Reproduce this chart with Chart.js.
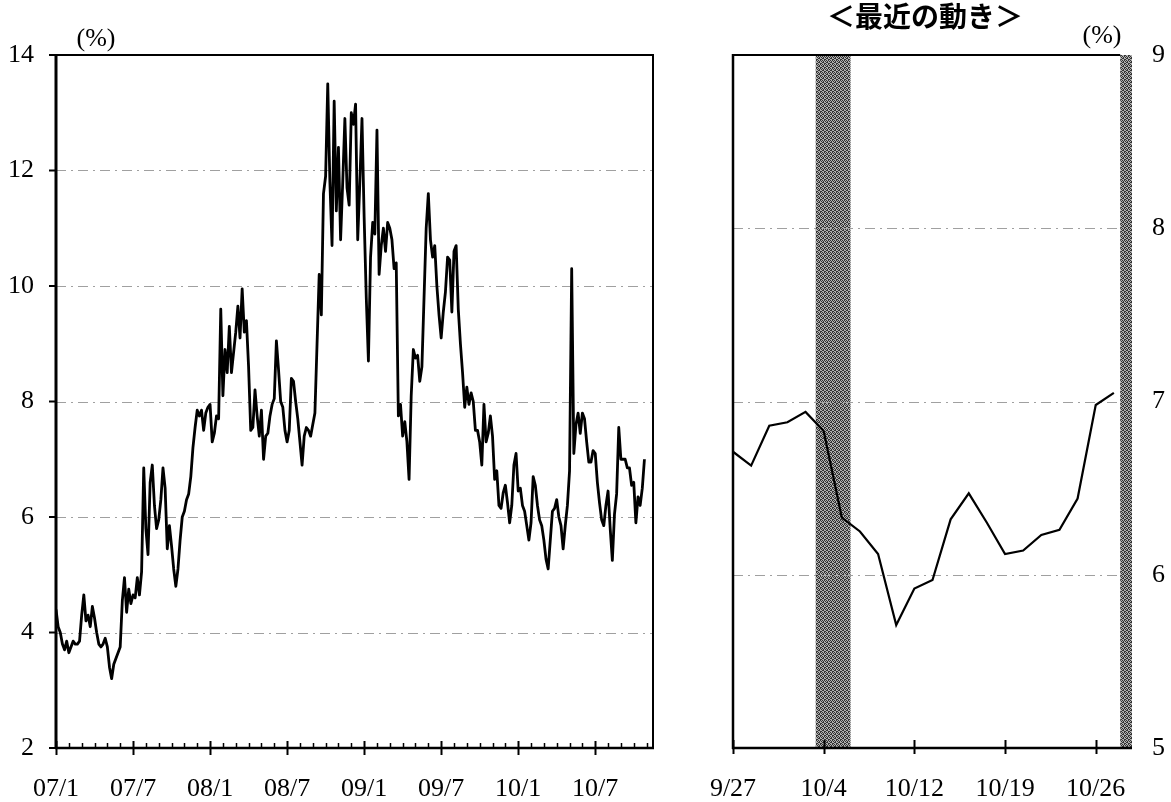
<!DOCTYPE html>
<html>
<head>
<meta charset="utf-8">
<script src="https://cdn.jsdelivr.net/npm/chart.js@4/dist/chart.umd.min.js"></script>
<style>
  html, body { margin: 0; padding: 0; background: #fff; }
  body { width: 1171px; height: 802px; position: relative; overflow: hidden; }
  canvas { position: absolute; top: 0; }
  .lbl { position: absolute; transform: translate(-50%, -50%); white-space: nowrap; color: #000; line-height: 1; }
  .serif { font-family: "Liberation Serif", "DejaVu Serif", serif; font-size: 26px; }
  .title { font-family: "Noto Sans CJK JP", sans-serif; font-weight: bold; font-size: 28px; }
</style>
</head>
<body>
<canvas id="left" width="700" height="802" style="left:0"></canvas>
<canvas id="right" width="471" height="802" style="left:700px"></canvas>
<div class="lbl serif" style="left:96px; top:38px;">(%)</div>
<div class="lbl serif" style="left:1102px; top:35px;">(%)</div>
<div class="lbl title" style="left:925px; top:15px;">＜最近の動き＞</div>
<script>
// ---------- Long-run series (Jan 2007 – Oct 2010), 6 readings per month ----------
const startLabel = '07/1';
const pointsPerMonth = 6;
const longValues = [
  4.4,4.1,4.0,3.8,3.7,3.85, 3.65,3.75,3.85,3.8,3.8,3.85,
  4.3,4.65,4.2,4.3,4.1,4.45, 4.25,4.0,3.8,3.75,3.8,3.9,
  3.75,3.4,3.2,3.45,3.55,3.65, 3.75,4.55,4.95,4.35,4.75,4.5,
  4.65,4.6,4.95,4.65,5.05,6.85, 5.8,5.35,6.6,6.9,6.2,5.8,
  5.95,6.3,6.85,6.5,5.45,5.85, 5.5,5.1,4.8,5.1,5.6,6.0,
  6.1,6.3,6.4,6.7,7.2,7.55, 7.85,7.75,7.85,7.5,7.8,7.9,
  7.95,7.3,7.45,7.75,7.7,9.6, 8.1,8.9,8.5,9.3,8.5,8.85,
  9.2,9.65,9.1,9.95,9.2,9.4, 8.6,7.5,7.55,8.2,7.75,7.4,
  7.85,7.0,7.4,7.45,7.75,7.95, 8.05,9.05,8.55,8.0,7.9,7.5,
  7.3,7.5,8.4,8.35,8.0,7.7, 7.3,6.9,7.4,7.55,7.5,7.4,
  7.6,7.8,9.0,10.2,9.5,11.6, 11.9,13.5,11.8,10.7,13.2,11.3,
  12.4,10.8,11.8,12.9,11.7,11.4, 13.0,12.8,13.15,10.8,11.8,12.9,
  11.2,9.8,8.7,10.5,11.1,10.9, 12.7,10.2,10.7,11.0,10.6,11.1,
  11.0,10.8,10.3,10.4,7.75,7.95, 7.4,7.65,7.3,6.65,8.1,8.9,
  8.75,8.8,8.35,8.6,9.8,11.0, 11.6,10.8,10.5,10.7,10.0,9.5,
  9.1,9.55,9.9,10.5,10.45,9.55, 10.6,10.7,9.6,9.0,8.5,7.9,
  8.25,7.95,8.15,8.0,7.5,7.5, 7.3,6.9,7.95,7.3,7.45,7.75,
  7.4,6.65,6.8,6.2,6.15,6.42, 6.55,6.25,5.9,6.2,6.9,7.1,
  6.45,6.5,6.2,6.1,5.85,5.6, 5.9,6.7,6.55,6.2,5.95,5.85,
  5.6,5.27,5.1,5.6,6.1,6.15, 6.3,6.0,5.85,5.45,5.85,6.2,
  6.8,10.3,7.1,7.6,7.8,7.45, 7.8,7.7,7.3,6.95,6.95,7.15,
  7.1,6.6,6.25,5.95,5.85,6.2, 6.45,5.8,5.25,6.05,6.4,7.55,
  7.0,7.0,7.0,6.85,6.85,6.55, 6.6,5.9,6.35,6.2,6.5,7.0
];
const longTickLabels = ['07/1','07/7','08/1','08/7','09/1','09/7','10/1','10/7'];
const longAxisMonths = 46.5;        // axis runs to mid Nov 2010
const longYTicks = [2,4,6,8,10,12,14];

// ---------- Recent series (business days) ----------
const recentDates = ['9/27','9/28','9/29','9/30','10/1','10/4','10/5','10/6','10/7','10/8',
  '10/12','10/13','10/14','10/15','10/18','10/19','10/20','10/21','10/22','10/25','10/26','10/27'];
const recentValues = [6.71,6.63,6.86,6.88,6.94,6.83,6.33,6.25,6.12,5.71,
  5.92,5.97,6.32,6.47,6.30,6.12,6.14,6.23,6.26,6.44,6.98,7.05];
const recentTickDates = ['9/27','10/4','10/12','10/19','10/26'];
const recentShade = [[4.56, 6.48], [21.35, 22]];   // in business-day index units
const recentYTicks = [5,6,7,8,9];

const SERIF = '"Liberation Serif", "DejaVu Serif", serif';
Chart.defaults.font.family = SERIF;
Chart.defaults.color = '#000';

function dashedGrid(ctx, area, ys) {
  ctx.save();
  ctx.strokeStyle = '#a0a0a0';
  ctx.lineWidth = 1;
  ctx.setLineDash([10, 5, 2, 5]);
  ys.forEach(y => {
    ctx.beginPath();
    ctx.moveTo(area.left, Math.round(y) + 0.5);
    ctx.lineTo(area.right, Math.round(y) + 0.5);
    ctx.stroke();
  });
  ctx.restore();
}
function line(ctx, x1, y1, x2, y2, w) {
  ctx.lineWidth = w;
  ctx.beginPath(); ctx.moveTo(x1, y1); ctx.lineTo(x2, y2); ctx.stroke();
}
function noSidePadding(s) { s.paddingLeft = 0; s.paddingRight = 0; s.height = 54; }

// ---------- Left chart ----------
const longPoints = longValues.map((v, i) => ({ x: i / pointsPerMonth, y: v }));

const leftPlugin = {
  id: 'leftDecor',
  beforeDatasetsDraw(chart) {
    const { ctx, chartArea: a, scales: { y } } = chart;
    dashedGrid(ctx, a, longYTicks.filter(v => v > y.min && v < y.max).map(v => y.getPixelForValue(v)));
  },
  afterDatasetsDraw(chart) {
    const { ctx, chartArea: a, scales: { x, y } } = chart;
    ctx.save();
    ctx.strokeStyle = '#000';
    ctx.lineCap = 'butt';
    line(ctx, a.left, a.top, a.right + 1, a.top, 2);
    line(ctx, a.right, a.top, a.right, a.bottom, 2);
    line(ctx, a.left - 1, a.bottom, a.right + 1, a.bottom, 2.5);
    line(ctx, a.left, a.top - 1, a.left, a.bottom + 1, 3);
    longYTicks.forEach(v => { const py = y.getPixelForValue(v); line(ctx, a.left - 7, py, a.left, py, 2); });
    for (let m = 0; m <= Math.floor(x.max); m++) {
      const px = Math.round(x.getPixelForValue(m)) + 0.5;
      if (m % 6 === 0) line(ctx, px, a.bottom - 7, px, a.bottom + 7, 2);
      else line(ctx, px, a.bottom - 5, px, a.bottom, 1.5);
    }
    ctx.restore();
  }
};

new Chart(document.getElementById('left'), {
  type: 'line',
  data: { datasets: [{ data: longPoints, borderColor: '#000', borderWidth: 2.8, pointRadius: 0, tension: 0, borderJoinStyle: 'round', fill: false }] },
  options: {
    responsive: false, animation: false, devicePixelRatio: 1,
    layout: { padding: { top: 55, right: 47, left: 0, bottom: 0 } },
    plugins: { legend: { display: false }, tooltip: { enabled: false } },
    scales: {
      x: {
        type: 'linear', min: 0, max: longAxisMonths,
        afterBuildTicks: s => { s.ticks = longTickLabels.map((_, i) => ({ value: i * 6 })); },
        ticks: { autoSkip: false, maxRotation: 0, padding: 26, font: { size: 26 },
                 callback: v => longTickLabels[Math.round(v / 6)] },
        grid: { display: false, drawTicks: false }, border: { display: false },
        afterFit: noSidePadding
      },
      y: {
        min: 2, max: 14,
        afterBuildTicks: s => { s.ticks = longYTicks.map(v => ({ value: v })); },
        ticks: { padding: 22, font: { size: 26 } },
        grid: { display: false, drawTicks: false }, border: { display: false },
        afterFit: s => { s.width = 56; }
      }
    }
  },
  plugins: [leftPlugin]
});

// ---------- Right chart ----------
function makePattern() {
  const c = document.createElement('canvas');
  c.width = 4; c.height = 4;
  const g = c.getContext('2d');
  g.fillStyle = '#b0b0b0'; g.fillRect(0, 0, 4, 4);
  g.fillStyle = '#333';
  [[0,0],[2,0],[1,1],[3,2],[0,3],[2,2],[1,3],[3,1]].forEach(([px, py]) => g.fillRect(px, py, 1, 1));
  return c;
}
const recentPoints = recentValues.map((v, i) => ({ x: i, y: v }));

const rightPlugin = {
  id: 'rightDecor',
  beforeDatasetsDraw(chart) {
    const { ctx, chartArea: a, scales: { x, y } } = chart;
    ctx.save();
    ctx.fillStyle = ctx.createPattern(makePattern(), 'repeat');
    recentShade.forEach(([s, e]) => {
      const x1 = x.getPixelForValue(s), x2 = x.getPixelForValue(e);
      ctx.fillRect(x1, a.top, x2 - x1, a.bottom - a.top);
    });
    ctx.restore();
    const [s2] = recentShade[recentShade.length - 1];
    dashedGrid(ctx, { left: a.left, right: x.getPixelForValue(s2) }, recentYTicks.filter(v => v > y.min && v < y.max).map(v => y.getPixelForValue(v)));
  },
  afterDatasetsDraw(chart) {
    const { ctx, chartArea: a, scales: { x } } = chart;
    ctx.save();
    ctx.strokeStyle = '#000';
    const shadeStart = x.getPixelForValue(recentShade[recentShade.length - 1][0]);
    line(ctx, a.left, a.top, shadeStart, a.top, 2);
    line(ctx, a.left - 1, a.bottom, a.right, a.bottom, 2.5);
    line(ctx, a.left, a.top - 1, a.left, a.bottom + 1, 2.5);
    recentTickDates.forEach(d => {
      const px = Math.round(x.getPixelForValue(recentDates.indexOf(d))) + 0.5;
      line(ctx, px, a.bottom - 8, px, a.bottom + 6, 2);
    });
    ctx.restore();
  }
};

new Chart(document.getElementById('right'), {
  type: 'line',
  data: { datasets: [{ data: recentPoints, borderColor: '#000', borderWidth: 2.2, pointRadius: 0, tension: 0, fill: false }] },
  options: {
    responsive: false, animation: false, devicePixelRatio: 1,
    layout: { padding: { top: 55, right: 0, left: 33, bottom: 0 } },
    plugins: { legend: { display: false }, tooltip: { enabled: false } },
    scales: {
      x: {
        type: 'linear', min: 0, max: 22,
        afterBuildTicks: s => { s.ticks = recentTickDates.map(d => ({ value: recentDates.indexOf(d) })); },
        ticks: { autoSkip: false, maxRotation: 0, padding: 26, font: { size: 26 },
                 callback: v => recentDates[v] },
        grid: { display: false, drawTicks: false }, border: { display: false },
        afterFit: noSidePadding
      },
      y: {
        position: 'right', min: 5, max: 9,
        afterBuildTicks: s => { s.ticks = recentYTicks.map(v => ({ value: v })); },
        ticks: { padding: 20, font: { size: 26 } },
        grid: { display: false, drawTicks: false }, border: { display: false },
        afterFit: s => { s.width = 39; }
      }
    }
  },
  plugins: [rightPlugin]
});
</script>
</body>
</html>
